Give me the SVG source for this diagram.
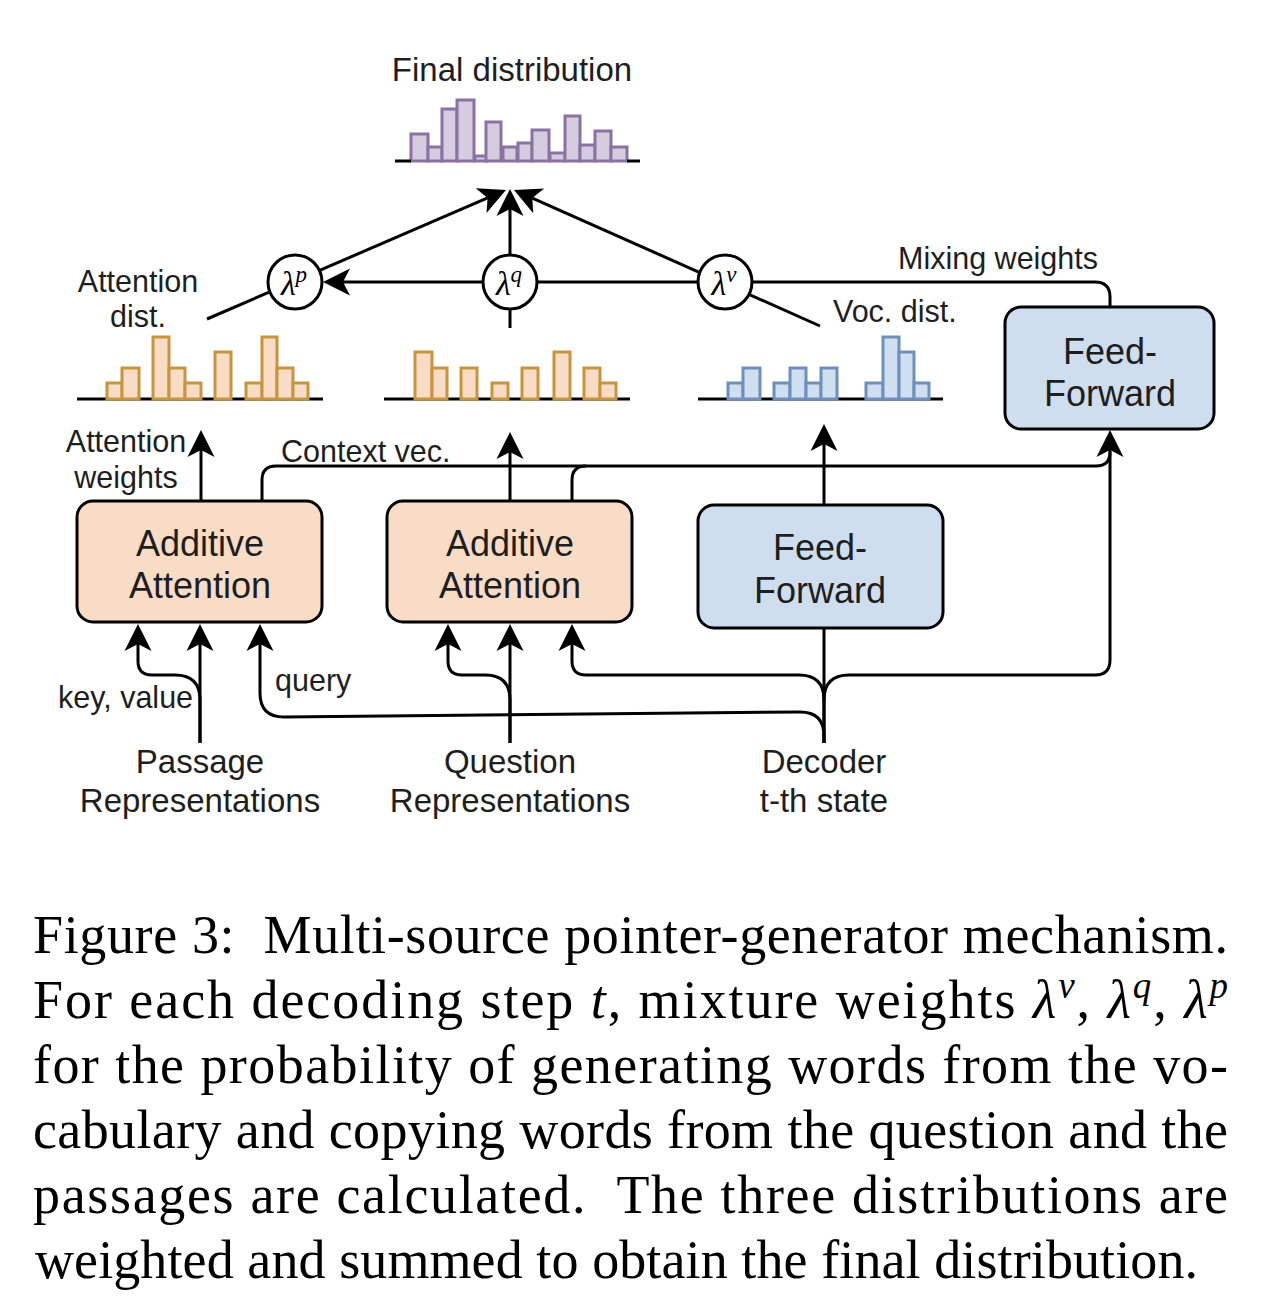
<svg xmlns="http://www.w3.org/2000/svg" width="1278" height="1308" viewBox="0 0 1278 1308">
<style>
.lbl{font-family:"Liberation Sans",Arial,sans-serif;font-size:30.5px;fill:#1e1e1e}
.big{font-family:"Liberation Sans",Arial,sans-serif;font-size:33px;fill:#1e1e1e}
.box{font-family:"Liberation Sans",Arial,sans-serif;font-size:36px;fill:#1e1e1e;text-anchor:middle}
.mid{text-anchor:middle}
.conn{fill:none;stroke:#000;stroke-width:3}
.axis{stroke:#000;stroke-width:3}
.orng{fill:#f8dcc5;stroke:#000;stroke-width:3}
.blue{fill:#cfdeef;stroke:#000;stroke-width:3}
.bo rect{fill:#f8dcc5;stroke:#c8953c;stroke-width:3}
.bb rect{fill:#d0dff0;stroke:#6f8fbd;stroke-width:3}
.bp rect{fill:#d6cce0;stroke:#8a72a3;stroke-width:3}
.lam{fill:#fff;stroke:#000;stroke-width:3}
.greek{font-family:"Liberation Serif","Times New Roman",serif;font-style:italic;font-size:34px;fill:#000;text-anchor:middle}
.cap{font-family:"Liberation Serif","Times New Roman",serif;font-size:54px;fill:#000}
</style>
<defs>
<marker id="arr" viewBox="-10 -16 32 32" markerWidth="32" markerHeight="32" refX="0" refY="0" orient="auto" markerUnits="userSpaceOnUse">
<path d="M20,0 L-7,-13.5 L0,0 L-7,13.5 Z" fill="#000"/>
</marker>
</defs>
<rect width="1278" height="1308" fill="#fff"/>

<g id="connectors">
<line class="conn" x1="207" y1="319" x2="487.6" y2="197.9" marker-end="url(#arr)"/>
<line class="conn" x1="820" y1="326" x2="532.3" y2="198.1" marker-end="url(#arr)"/>
<line class="conn" x1="510" y1="328" x2="510" y2="209" marker-end="url(#arr)"/>
<line class="conn" x1="697" y1="282" x2="343" y2="282" marker-end="url(#arr)"/>
<path class="conn" d="M753,282 H1095 Q1110,282 1110,297 V307"/>
<path class="conn" d="M201,501 V450" marker-end="url(#arr)"/>
<path class="conn" d="M510,501 V452" marker-end="url(#arr)"/>
<path class="conn" d="M824,505 V444" marker-end="url(#arr)"/>
<path class="conn" d="M262,501 V480 Q262,466 276,466 H1096 Q1110,466 1110,452"/>
<path class="conn" d="M572,501 V480 Q572,466 586,466"/>
<path class="conn" d="M200,743 V700 Q200,675 175,675 H152 Q138,675 138,661 V644" marker-end="url(#arr)"/>
<path class="conn" d="M200,743 V644" marker-end="url(#arr)"/>
<path class="conn" d="M824,743 V736 Q824,712 800,712 L284,717 Q260,717 260,693 V644" marker-end="url(#arr)"/>
<path class="conn" d="M510,743 V700 Q510,675 485,675 H462 Q448,675 448,661 V644" marker-end="url(#arr)"/>
<path class="conn" d="M510,743 V644" marker-end="url(#arr)"/>
<path class="conn" d="M824,743 V700 Q824,675 799,675 H586 Q572,675 572,661 V644" marker-end="url(#arr)"/>
<path class="conn" d="M824,743 V628"/>
<path class="conn" d="M824,700 Q824,675 849,675 H1095 Q1110,675 1110,660 V450" marker-end="url(#arr)"/>
</g>

<g id="lambda-p"><circle class="lam" cx="295" cy="282" r="27"/><text class="greek" x="294" y="295">λ<tspan font-size="23" dy="-13">p</tspan></text></g>
<g id="lambda-q"><circle class="lam" cx="510" cy="282" r="27"/><text class="greek" x="509" y="295">λ<tspan font-size="23" dy="-13">q</tspan></text></g>
<g id="lambda-v"><circle class="lam" cx="725" cy="282" r="27"/><text class="greek" x="724" y="295">λ<tspan font-size="23" dy="-13">v</tspan></text></g>

<g id="final-dist">
<text class="big mid" x="512" y="81">Final distribution</text>
<g class="bp">
<rect x="411" y="134" width="17" height="27"/>
<rect x="428" y="147" width="14" height="14"/>
<rect x="442" y="109" width="15" height="52"/>
<rect x="457" y="100" width="17" height="61"/>
<rect x="475" y="156" width="12" height="5"/>
<rect x="486" y="122" width="15" height="39"/>
<rect x="503" y="147" width="14" height="14"/>
<rect x="518" y="143" width="14" height="18"/>
<rect x="532" y="130" width="17" height="31"/>
<rect x="550" y="153" width="15" height="8"/>
<rect x="565" y="116" width="15" height="45"/>
<rect x="580" y="145" width="15" height="16"/>
<rect x="595" y="131" width="16" height="30"/>
<rect x="611" y="147" width="16" height="14"/>
</g>
<line class="axis" x1="395" y1="161" x2="411" y2="161"/>
<line class="axis" x1="627" y1="161" x2="640" y2="161"/>
</g>

<g id="attention-dist">
<text class="lbl mid" x="138" y="292">Attention</text>
<text class="lbl mid" x="138" y="327">dist.</text>
<line class="axis" x1="77" y1="399" x2="323" y2="399"/>
<g class="bo">
<rect x="107" y="383" width="15" height="16"/>
<rect x="122" y="368" width="17" height="31"/>
<rect x="153" y="337" width="16" height="62"/>
<rect x="169" y="368" width="16" height="31"/>
<rect x="185" y="383" width="16" height="16"/>
<rect x="215" y="352" width="16" height="47"/>
<rect x="246" y="383" width="16" height="16"/>
<rect x="262" y="337" width="15" height="62"/>
<rect x="277" y="368" width="16" height="31"/>
<rect x="293" y="383" width="15" height="16"/>
</g>
</g>

<g id="question-dist">
<line class="axis" x1="384" y1="399" x2="630" y2="399"/>
<g class="bo">
<rect x="415" y="352" width="17" height="47"/>
<rect x="432" y="368" width="15" height="31"/>
<rect x="461" y="368" width="16" height="31"/>
<rect x="492" y="383" width="16" height="16"/>
<rect x="522" y="368" width="16" height="31"/>
<rect x="554" y="352" width="16" height="47"/>
<rect x="584" y="368" width="16" height="31"/>
<rect x="600" y="383" width="16" height="16"/>
</g>
</g>

<g id="voc-dist">
<text class="lbl" x="833" y="322">Voc. dist.</text>
<line class="axis" x1="698" y1="399" x2="943" y2="399"/>
<g class="bb">
<rect x="728" y="383" width="15" height="16"/>
<rect x="743" y="368" width="17" height="31"/>
<rect x="774" y="383" width="16" height="16"/>
<rect x="790" y="368" width="16" height="31"/>
<rect x="806" y="383" width="15" height="16"/>
<rect x="821" y="368" width="16" height="31"/>
<rect x="866" y="383" width="17" height="16"/>
<rect x="883" y="337" width="16" height="62"/>
<rect x="899" y="352" width="15" height="47"/>
<rect x="914" y="383" width="15" height="16"/>
</g>
</g>

<g id="mixing-label"><text class="lbl" x="898" y="269">Mixing weights</text></g>
<g id="attn-weights-label"><text class="lbl mid" x="126" y="452">Attention</text><text class="lbl mid" x="126" y="488">weights</text></g>
<g id="context-label"><text class="lbl" x="281" y="462">Context vec.</text></g>
<g id="kv-label"><text class="lbl" x="58" y="708">key, value</text></g>
<g id="query-label"><text class="lbl" x="275" y="691">query</text></g>

<g id="add-att-1"><rect class="orng" x="77" y="501" width="245" height="121" rx="16"/><text class="box" x="200" y="556">Additive</text><text class="box" x="200" y="598">Attention</text></g>
<g id="add-att-2"><rect class="orng" x="387" y="501" width="245" height="121" rx="16"/><text class="box" x="510" y="556">Additive</text><text class="box" x="510" y="598">Attention</text></g>
<g id="ff-mid"><rect class="blue" x="698" y="505" width="245" height="123" rx="16"/><text class="box" x="820" y="560">Feed-</text><text class="box" x="820" y="603">Forward</text></g>
<g id="ff-right"><rect class="blue" x="1005" y="307" width="209" height="122" rx="16"/><text class="box" x="1110" y="364">Feed-</text><text class="box" x="1110" y="406">Forward</text></g>

<g id="passage"><text class="big mid" x="200" y="773">Passage</text><text class="big mid" x="200" y="812">Representations</text></g>
<g id="question"><text class="big mid" x="510" y="773">Question</text><text class="big mid" x="510" y="812">Representations</text></g>
<g id="decoder"><text class="big mid" x="824" y="773">Decoder</text><text class="big mid" x="824" y="812">t-th state</text></g>

<g id="caption">
<text class="cap" x="33" y="953" xml:space="preserve" textLength="1195" lengthAdjust="spacing">Figure 3:  Multi-source pointer-generator mechanism.</text>
<text class="cap" x="33" y="1018" xml:space="preserve" textLength="1195" lengthAdjust="spacing">For each decoding step <tspan font-style="italic">t</tspan>, mixture weights <tspan font-style="italic">λ</tspan><tspan font-style="italic" font-size="37" dy="-20">v</tspan><tspan dy="20">, </tspan><tspan font-style="italic">λ</tspan><tspan font-style="italic" font-size="37" dy="-20">q</tspan><tspan dy="20">, </tspan><tspan font-style="italic">λ</tspan><tspan font-style="italic" font-size="37" dy="-20">p</tspan></text>
<text class="cap" x="33" y="1083" xml:space="preserve" textLength="1195" lengthAdjust="spacing">for the probability of generating words from the vo-</text>
<text class="cap" x="33" y="1148" xml:space="preserve" textLength="1195" lengthAdjust="spacing">cabulary and copying words from the question and the</text>
<text class="cap" x="33" y="1213" xml:space="preserve" textLength="1195" lengthAdjust="spacing">passages are calculated.  The three distributions are</text>
<text class="cap" x="35" y="1278" xml:space="preserve" textLength="1163" lengthAdjust="spacing">weighted and summed to obtain the final distribution.</text>
</g>
</svg>
